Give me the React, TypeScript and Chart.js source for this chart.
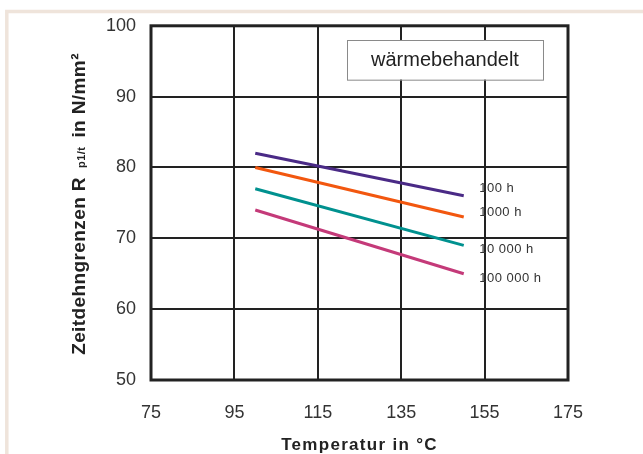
import React, { useEffect, useRef } from "react";
import { Chart, registerables } from "chart.js";

Chart.register(...registerables);

// ---- data ----
const temps = [100, 150];
const r100h = [82, 76];
const r1000h = [80, 73];
const r10000h = [77, 69];
const r100000h = [74, 65];
const seriesLabels = ["100 h", "1000 h", "10 000 h", "100 000 h"];
const seriesColors = ["#4a2a86", "#f2570f", "#00918f", "#c43a79"];
const labelAnchorX = 153.7;
const labelAnchorY = [77.0, 73.7, 68.5, 64.4];
const xTicks = [75, 95, 115, 135, 155, 175];
const yTicks = [50, 60, 70, 80, 90, 100];
const boxText = "wärmebehandelt";
const boxRange = { x1: 122, x2: 169, y1: 98.0, y2: 92.4 };

const FONT = "'Liberation Sans', Arial, sans-serif";

const framePlugin = {
  id: "frame",
  beforeDraw(chart: any) {
    const { ctx, width, height } = chart;
    ctx.save();
    ctx.fillStyle = "#ffffff";
    ctx.fillRect(0, 0, width, height);
    ctx.strokeStyle = "#efe4db";
    ctx.lineWidth = 3.5;
    ctx.strokeRect(6.8, 11.5, width + 20, height + 20);
    ctx.restore();
  },
  beforeDatasetsDraw(chart: any) {
    const { ctx, chartArea: a, scales } = chart;
    const x = scales.x, y = scales.y;
    ctx.save();
    // annotation box
    const bx1 = x.getPixelForValue(boxRange.x1);
    const bx2 = x.getPixelForValue(boxRange.x2);
    const by1 = y.getPixelForValue(boxRange.y1);
    const by2 = y.getPixelForValue(boxRange.y2);
    ctx.fillStyle = "#ffffff";
    ctx.fillRect(bx1, by1, bx2 - bx1, by2 - by1);
    ctx.strokeStyle = "#8a8a8a";
    ctx.lineWidth = 1;
    ctx.strokeRect(Math.round(bx1) + 0.5, Math.round(by1) + 0.5, bx2 - bx1, by2 - by1);
    ctx.fillStyle = "#222222";
    ctx.font = `20px ${FONT}`;
    ctx.textAlign = "center";
    ctx.textBaseline = "middle";
    ctx.fillText(boxText, (bx1 + bx2) / 2, (by1 + by2) / 2 + 1);
    // plot border
    ctx.strokeStyle = "#222222";
    ctx.lineWidth = 3;
    ctx.strokeRect(a.left, a.top, a.right - a.left, a.bottom - a.top);
    ctx.restore();
  },
  afterDatasetsDraw(chart: any) {
    const { ctx, chartArea: a, scales } = chart;
    const x = scales.x, y = scales.y;
    ctx.save();
    ctx.fillStyle = "#333333";
    ctx.font = `13px ${FONT}`;
    (ctx as any).letterSpacing = "0.5px";
    ctx.textAlign = "left";
    ctx.textBaseline = "middle";
    seriesLabels.forEach((t, i) => {
      ctx.fillText(t, x.getPixelForValue(labelAnchorX), y.getPixelForValue(labelAnchorY[i]));
    });
    // x title
    ctx.fillStyle = "#222222";
    ctx.font = `bold 17px ${FONT}`;
    (ctx as any).letterSpacing = "1.3px";
    ctx.textAlign = "center";
    ctx.textBaseline = "alphabetic";
    ctx.fillText("Temperatur in °C", (a.left + a.right) / 2, 450);
    // y title (rotated, with subscript)
    ctx.translate(85, 204);
    ctx.rotate(-Math.PI / 2);
    (ctx as any).letterSpacing = "0.4px";
    const parts = [
      { t: "Zeitdehngrenzen R ", f: `bold 19px ${FONT}` },
      { t: " p1/t ", f: `bold 11px ${FONT}` },
      { t: " in N/mm²", f: `bold 19px ${FONT}` },
    ];
    let total = 0;
    parts.forEach((p) => { ctx.font = p.f; total += ctx.measureText(p.t).width; });
    let cx = -total / 2;
    ctx.textAlign = "left";
    parts.forEach((p) => {
      ctx.font = p.f;
      ctx.fillText(p.t, cx, 0);
      cx += ctx.measureText(p.t).width;
    });
    ctx.restore();
  },
};

export default function App() {
  const ref = useRef<HTMLCanvasElement | null>(null);
  useEffect(() => {
    if (!ref.current) return;
    const datasets = [r100h, r1000h, r10000h, r100000h].map((vals, i) => ({
      label: seriesLabels[i],
      data: temps.map((t, j) => ({ x: t, y: vals[j] })),
      borderColor: seriesColors[i],
      backgroundColor: seriesColors[i],
      borderWidth: 3,
      pointRadius: 0,
      fill: false,
    }));
    const chart = new Chart(ref.current, {
      type: "line",
      data: { datasets },
      plugins: [framePlugin],
      options: {
        animation: false,
        responsive: true,
        maintainAspectRatio: false,
        layout: { padding: { left: 0, top: 25, right: 75, bottom: 0 } },
        plugins: { legend: { display: false }, tooltip: { enabled: false } },
        scales: {
          x: {
            type: "linear",
            min: 75,
            max: 175,
            afterBuildTicks: (s: any) => { s.ticks = xTicks.map((v) => ({ value: v })); },
            afterFit: (s: any) => { s.height = 74; },
            grid: { color: "#222222", lineWidth: 2, drawTicks: false },
            border: { display: false },
            ticks: { color: "#333333", font: { family: FONT, size: 18 }, padding: 22 },
          },
          y: {
            type: "linear",
            min: 50,
            max: 100,
            afterBuildTicks: (s: any) => { s.ticks = yTicks.map((v) => ({ value: v })); },
            afterFit: (s: any) => { s.width = 151; },
            grid: { color: "#222222", lineWidth: 2, drawTicks: false },
            border: { display: false },
            ticks: { color: "#333333", font: { family: FONT, size: 18 }, padding: 15 },
          },
        },
      } as any,
    });
    return () => chart.destroy();
  }, []);
  return (
    <div style={{ position: "fixed", left: 0, top: 0, width: 643, height: 454 }}>
      <canvas ref={ref} width={643} height={454} />
    </div>
  );
}
